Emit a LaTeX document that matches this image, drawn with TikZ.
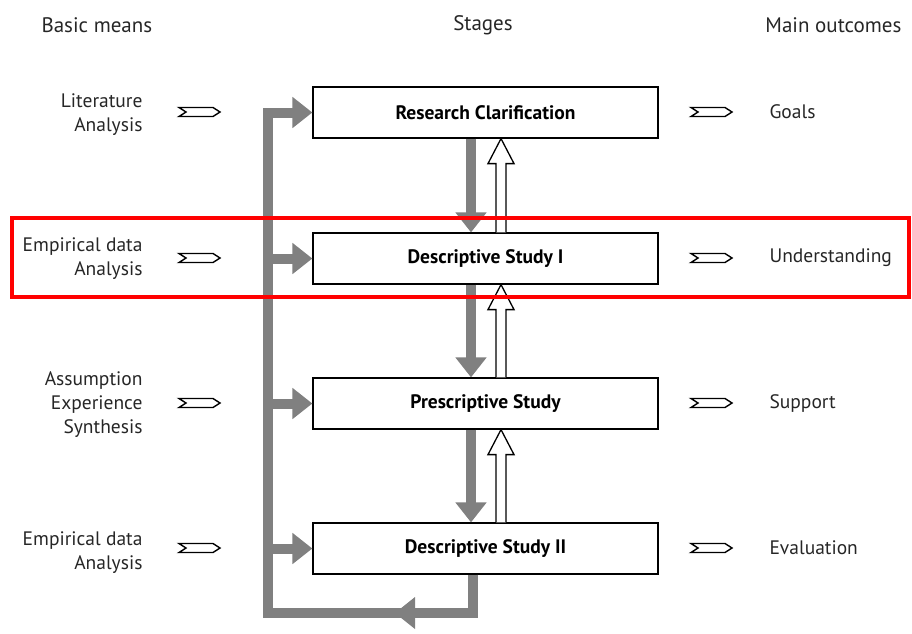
\documentclass[tikz,border=0pt]{standalone}
\usepackage{fontspec}
\setmainfont{PT Sans}
\usetikzlibrary{arrows.meta,calc}
\definecolor{flowgray}{HTML}{808080}
\begin{document}
\begin{tikzpicture}[x=1pt,y=-1pt,
  stagebox/.style={draw,line width=1.2pt,minimum width=345pt,minimum height=51pt,inner sep=0pt,font=\fontsize{19.5}{22}\selectfont\bfseries},
  lefttext/.style={anchor=east,align=right,font=\fontsize{19.5}{24}\selectfont,text=black!85},
  righttext/.style={anchor=west,font=\fontsize{19.5}{24}\selectfont,text=black!85},
  head/.style={font=\fontsize{21}{24}\selectfont,text=black!85},
  flow/.style={draw=flowgray,line width=10pt},
  flowarrow/.style={flow,-{Triangle[length=20pt,width=30pt]}},
  hollow/.style={draw,line width=1.3pt,fill=white},
  chev/.style={draw,line width=1.4pt,fill=white,line join=miter}]
\useasboundingbox (0,0) rectangle (912,633);
% headers
\node[head,anchor=west] (h1) at (38,25) {Basic means};
\node[head] (h2) at (483,25) {Stages};
\node[head,anchor=east] (h3) at (905,25) {Main outcomes};
% stage boxes
\node[stagebox] (rc) at (485.5,112.5) {Research Clarification};
\node[stagebox] (ds1) at (485.5,258.5) {Descriptive Study I};
\node[stagebox] (ps) at (485.5,403.5) {Prescriptive Study};
\node[stagebox] (ds2) at (485.5,548.5) {Descriptive Study II};
% left texts
\node[lefttext] (l1) at (146,115) {Literature\\Analysis};
\node[lefttext] (l2) at (146,259) {Empirical data\\Analysis};
\node[lefttext] (l3) at (146,405) {Assumption\\Experience\\Synthesis};
\node[lefttext] (l4) at (146,553) {Empirical data\\Analysis};
% right texts
\node[righttext] (r1) at (766,112) {Goals};
\node[righttext] (r2) at (766,258) {Understanding};
\node[righttext] (r3) at (766,403) {Support};
\node[righttext] (r4) at (766,548) {Evaluation};
% chevrons
\foreach \yy in {112,258,403,548}{
  \draw[chev] (179,\yy-4.5) -- (186,\yy) -- (179,\yy+4.5) -- (213,\yy+4.5) -- (220,\yy) -- (213,\yy-4.5) -- cycle;
  \draw[chev] (691,\yy-4.5) -- (698,\yy) -- (691,\yy+4.5) -- (725,\yy+4.5) -- (732,\yy) -- (725,\yy-4.5) -- cycle;
}
% feedback loop
\coordinate (loopA) at ($(ds2.south)+(-12.5,0)$);
\coordinate (loopB) at (473,613);
\coordinate (loopC) at (268,613);
\coordinate (loopD) at (268,112.5);
\draw[flow,line join=miter] (loopA) -- (loopB) -- (loopC) -- (loopD) -- ++(20,0);
\draw[flowarrow] (263,112.5) -- (rc.west);
\draw[flowarrow] (268,258.5) -- (ds1.west);
\draw[flowarrow] (268,403.5) -- (ps.west);
\draw[flowarrow] (268,548.5) -- (ds2.west);
\coordinate (mid) at (395,613);
\fill[flowgray] (mid) -- ++(20,-16) -- ++(0,32) -- cycle;
% downward gray arrows
\draw[flowarrow] ($(rc.south)+(-14.5,0)$) -- ($(ds1.north)+(-14.5,0)$);
\draw[flowarrow] ($(ds1.south)+(-14.5,0)$) -- ($(ps.north)+(-14.5,0)$);
\draw[flowarrow] ($(ps.south)+(-14.5,0)$) -- ($(ds2.north)+(-14.5,0)$);
% hollow upward arrows
\foreach \lo/\hi in {ds1/rc,ps/ds1,ds2/ps}{
  \draw[hollow] ($(\lo.north)+(10.5,0)$) -- ($(\hi.south)+(10.5,25)$) -- ($(\hi.south)+(2.5,25)$) -- ($(\hi.south)+(15.5,0)$) -- ($(\hi.south)+(28.5,25)$) -- ($(\hi.south)+(20.5,25)$) -- ($(\lo.north)+(20.5,0)$);
}
% highlight
\draw[draw=red,line width=4pt] (12,218) rectangle (909,297);
\end{tikzpicture}
\end{document}
